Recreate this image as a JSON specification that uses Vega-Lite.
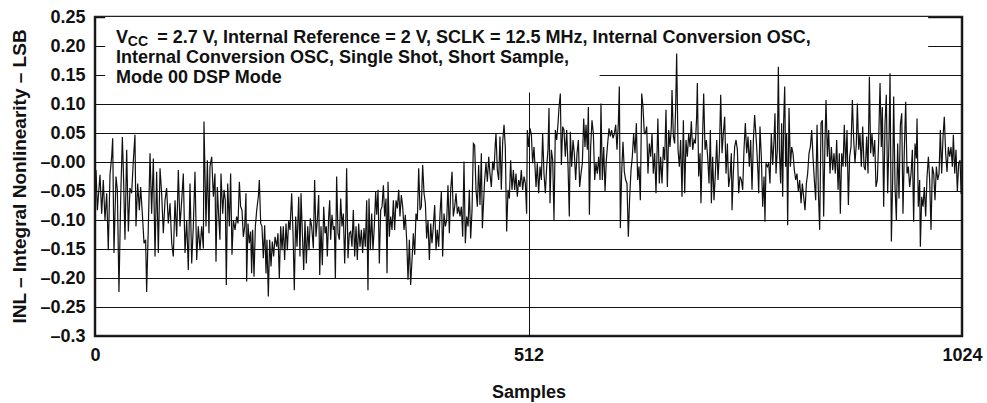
{
  "$schema": "https://vega.github.io/schema/vega-lite/v6.json",
  "autosize": {"type": "none"},
  "padding": {"left": 95, "top": 17, "right": 25, "bottom": 67},
  "width": 867,
  "height": 319,
  "background": "white",
  "config": {
    "font": "Liberation Sans",
    "view": {"stroke": "#222", "strokeWidth": 2.5},
    "axis": {"domain": false, "ticks": false, "grid": true, "gridColor": "#111", "gridWidth": 1, "gridOpacity": 1, "labelFont": "Liberation Sans", "labelFontWeight": "bold", "labelColor": "#111", "titleFont": "Liberation Sans", "titleFontWeight": "bold", "titleColor": "#111", "labelOverlap": false, "labelFlush": false}
  },
  "datasets": {
    "box": [
      {"sample": 12, "sample2": 984, "inl": 0.18, "inl2": 0.25},
      {"sample": 12, "sample2": 596, "inl": 0.12, "inl2": 0.18}
    ],
    "notes": [
      {"sample": 24.8, "inl": 0.2047, "label": "V"},
      {"sample": 73.5, "inl": 0.2047, "label": "= 2.7 V, Internal Reference = 2 V, SCLK = 12.5 MHz, Internal Conversion OSC,"},
      {"sample": 24.8, "inl": 0.1702, "label": "Internal Conversion OSC, Single Shot, Short Sample,"},
      {"sample": 24.8, "inl": 0.1367, "label": "Mode 00 DSP Mode"}
    ],
    "subscript": [
      {"sample": 38.8, "inl": 0.1995, "label": "CC"}
    ],
    "inl": [
{"sample":1.2,"inl":-0.014},{"sample":2.8,"inl":-0.083},{"sample":5.9,"inl":-0.022},{"sample":7.9,"inl":-0.089},{"sample":9.8,"inl":-0.031},{"sample":11.8,"inl":-0.100},{"sample":13.8,"inl":-0.054},{"sample":15.7,"inl":-0.152},{"sample":17.7,"inl":-0.022},{"sample":19.7,"inl":0.009},{"sample":20.9,"inl":0.041},{"sample":22.4,"inl":-0.157},{"sample":24.8,"inl":-0.025},{"sample":26.4,"inl":-0.048},{"sample":28.3,"inl":-0.224},{"sample":30.3,"inl":-0.066},{"sample":32.3,"inl":0.043},{"sample":33.5,"inl":-0.014},{"sample":35.4,"inl":-0.134},{"sample":37.4,"inl":0.021},{"sample":39.4,"inl":-0.120},{"sample":41.3,"inl":-0.045},{"sample":43.3,"inl":-0.054},{"sample":45.3,"inl":0.003},{"sample":47.2,"inl":0.047},{"sample":48.4,"inl":-0.111},{"sample":50.4,"inl":-0.037},{"sample":52.4,"inl":-0.083},{"sample":53.9,"inl":-0.043},{"sample":55.9,"inl":-0.089},{"sample":57.9,"inl":-0.140},{"sample":59.8,"inl":-0.134},{"sample":61.0,"inl":-0.224},{"sample":63.0,"inl":-0.111},{"sample":65.0,"inl":0.015},{"sample":66.9,"inl":-0.089},{"sample":68.9,"inl":0.006},{"sample":70.9,"inl":-0.163},{"sample":72.8,"inl":-0.017},{"sample":74.8,"inl":-0.157},{"sample":76.8,"inl":-0.011},{"sample":78.7,"inl":-0.054},{"sample":80.7,"inl":-0.123},{"sample":82.7,"inl":-0.066},{"sample":84.6,"inl":-0.045},{"sample":86.6,"inl":-0.106},{"sample":88.6,"inl":-0.071},{"sample":90.6,"inl":-0.140},{"sample":92.5,"inl":-0.163},{"sample":94.5,"inl":-0.066},{"sample":96.5,"inl":-0.129},{"sample":98.4,"inl":-0.014},{"sample":100.4,"inl":-0.111},{"sample":102.4,"inl":-0.066},{"sample":104.3,"inl":-0.020},{"sample":106.3,"inl":-0.157},{"sample":108.3,"inl":-0.100},{"sample":110.2,"inl":-0.186},{"sample":112.2,"inl":-0.037},{"sample":114.2,"inl":-0.175},{"sample":116.1,"inl":-0.111},{"sample":118.1,"inl":-0.017},{"sample":120.1,"inl":-0.169},{"sample":122.0,"inl":-0.111},{"sample":124.0,"inl":-0.152},{"sample":126.0,"inl":-0.111},{"sample":128.0,"inl":-0.149},
{"sample":128.7,"inl":0.070},{"sample":131.1,"inl":-0.111},{"sample":132.7,"inl":0.003},{"sample":134.6,"inl":-0.123},{"sample":135.8,"inl":-0.008},{"sample":137.8,"inl":0.009},{"sample":139.8,"inl":-0.060},{"sample":141.7,"inl":-0.020},{"sample":142.9,"inl":-0.172},{"sample":144.5,"inl":-0.043},{"sample":146.1,"inl":-0.094},{"sample":147.6,"inl":-0.134},{"sample":148.8,"inl":-0.020},{"sample":150.8,"inl":-0.089},{"sample":152.4,"inl":-0.048},{"sample":153.9,"inl":-0.066},{"sample":155.1,"inl":-0.212},{"sample":156.7,"inl":-0.037},{"sample":158.7,"inl":-0.111},{"sample":160.2,"inl":-0.020},{"sample":161.8,"inl":-0.160},{"sample":163.4,"inl":-0.100},{"sample":165.4,"inl":-0.117},{"sample":167.3,"inl":-0.094},{"sample":168.9,"inl":-0.106},{"sample":170.5,"inl":-0.034},{"sample":172.0,"inl":-0.077},{"sample":173.6,"inl":-0.083},{"sample":175.2,"inl":-0.129},{"sample":176.8,"inl":-0.111},{"sample":178.3,"inl":-0.054},{"sample":179.1,"inl":-0.206},{"sample":180.7,"inl":-0.106},{"sample":182.3,"inl":-0.140},{"sample":183.9,"inl":-0.120},{"sample":185.0,"inl":-0.192},{"sample":186.2,"inl":-0.117},{"sample":187.8,"inl":-0.198},{"sample":189.4,"inl":-0.111},{"sample":191.0,"inl":-0.083},{"sample":192.9,"inl":-0.060},{"sample":194.1,"inl":-0.031},{"sample":195.7,"inl":-0.106},{"sample":197.2,"inl":-0.111},{"sample":198.8,"inl":-0.166},{"sample":200.4,"inl":-0.109},{"sample":202.0,"inl":-0.192},{"sample":203.1,"inl":-0.134},{"sample":204.7,"inl":-0.232},{"sample":206.3,"inl":-0.134},{"sample":207.9,"inl":-0.180},{"sample":209.4,"inl":-0.137},{"sample":211.0,"inl":-0.163},{"sample":212.6,"inl":-0.129},{"sample":214.6,"inl":-0.146},{"sample":216.1,"inl":-0.123},{"sample":217.7,"inl":-0.201},{"sample":219.3,"inl":-0.111},{"sample":220.9,"inl":-0.152},{"sample":222.4,"inl":-0.111},{"sample":224.0,"inl":-0.169},{"sample":225.6,"inl":-0.106},{"sample":227.2,"inl":-0.152},{"sample":228.7,"inl":-0.100},{"sample":230.3,"inl":-0.117},{"sample":232.3,"inl":-0.054},{"sample":233.9,"inl":-0.123},{"sample":235.4,"inl":-0.221},{"sample":237.0,"inl":-0.094},{"sample":238.6,"inl":-0.146},{"sample":240.6,"inl":-0.060},{"sample":242.1,"inl":-0.163},{"sample":243.3,"inl":-0.054},{"sample":244.9,"inl":-0.123},{"sample":246.5,"inl":-0.186},{"sample":248.0,"inl":-0.100},{"sample":249.6,"inl":-0.175},{"sample":251.2,"inl":-0.111},{"sample":252.8,"inl":-0.152},{"sample":254.3,"inl":-0.097},{"sample":255.9,"inl":-0.111},{"sample":257.9,"inl":-0.149},
{"sample":259.4,"inl":-0.031},{"sample":261.0,"inl":-0.129},{"sample":262.6,"inl":-0.100},{"sample":264.2,"inl":-0.057},{"sample":265.4,"inl":-0.195},{"sample":266.9,"inl":-0.111},{"sample":268.5,"inl":-0.178},{"sample":270.1,"inl":-0.077},{"sample":271.7,"inl":-0.123},{"sample":273.2,"inl":-0.111},{"sample":274.4,"inl":-0.163},{"sample":276.0,"inl":-0.094},{"sample":277.2,"inl":-0.066},{"sample":278.3,"inl":-0.134},{"sample":279.9,"inl":-0.091},{"sample":281.5,"inl":-0.117},{"sample":282.7,"inl":-0.111},{"sample":283.9,"inl":-0.201},{"sample":285.4,"inl":-0.025},{"sample":287.0,"inl":-0.123},{"sample":288.6,"inl":-0.134},{"sample":290.2,"inl":-0.063},{"sample":291.7,"inl":-0.111},{"sample":293.3,"inl":-0.089},{"sample":294.9,"inl":-0.175},{"sample":296.1,"inl":-0.111},{"sample":297.2,"inl":-0.011},{"sample":298.8,"inl":-0.166},{"sample":300.4,"inl":-0.123},{"sample":302.0,"inl":-0.120},{"sample":303.5,"inl":-0.146},{"sample":305.1,"inl":-0.083},{"sample":306.7,"inl":-0.163},{"sample":308.3,"inl":-0.111},{"sample":309.8,"inl":-0.169},{"sample":311.4,"inl":-0.106},{"sample":313.0,"inl":-0.146},{"sample":314.6,"inl":-0.117},{"sample":316.1,"inl":-0.157},{"sample":317.7,"inl":-0.114},{"sample":319.3,"inl":-0.146},{"sample":320.9,"inl":-0.066},{"sample":322.4,"inl":-0.221},{"sample":323.6,"inl":-0.063},{"sample":325.2,"inl":-0.152},{"sample":326.8,"inl":-0.089},{"sample":328.3,"inl":-0.152},{"sample":329.9,"inl":-0.111},{"sample":331.5,"inl":-0.051},{"sample":332.7,"inl":-0.091},{"sample":334.3,"inl":-0.048},{"sample":335.8,"inl":-0.175},{"sample":337.4,"inl":-0.083},{"sample":339.0,"inl":-0.077},{"sample":340.6,"inl":-0.040},{"sample":342.1,"inl":-0.094},{"sample":343.7,"inl":-0.063},{"sample":344.9,"inl":-0.192},{"sample":346.1,"inl":-0.034},{"sample":347.6,"inl":-0.129},{"sample":349.2,"inl":-0.094},{"sample":350.8,"inl":-0.117},{"sample":352.4,"inl":-0.066},{"sample":353.9,"inl":-0.117},{"sample":355.5,"inl":-0.066},{"sample":357.1,"inl":-0.080},{"sample":358.7,"inl":-0.048},{"sample":360.2,"inl":-0.094},{"sample":361.8,"inl":-0.057},{"sample":363.4,"inl":-0.077},{"sample":365.0,"inl":-0.117},{"sample":366.5,"inl":-0.091},{"sample":368.1,"inl":-0.134},{"sample":369.7,"inl":-0.203},{"sample":371.3,"inl":-0.134},{"sample":372.8,"inl":-0.212},{"sample":374.4,"inl":-0.169},{"sample":376.0,"inl":-0.123},{"sample":377.6,"inl":-0.160},{"sample":379.1,"inl":-0.089},{"sample":380.7,"inl":-0.100},{"sample":382.3,"inl":-0.011},{"sample":383.9,"inl":-0.083},{"sample":385.4,"inl":-0.077},{"sample":387.0,"inl":-0.005},{"sample":388.6,"inl":-0.054},
{"sample":390.2,"inl":-0.071},{"sample":391.7,"inl":-0.132},{"sample":393.3,"inl":-0.100},{"sample":394.9,"inl":-0.169},{"sample":396.5,"inl":-0.106},{"sample":398.0,"inl":-0.140},{"sample":399.6,"inl":-0.111},{"sample":401.2,"inl":-0.074},{"sample":402.8,"inl":-0.152},{"sample":404.3,"inl":-0.117},{"sample":405.9,"inl":-0.146},{"sample":407.5,"inl":-0.089},{"sample":409.1,"inl":-0.051},{"sample":410.6,"inl":-0.163},{"sample":412.2,"inl":-0.089},{"sample":413.8,"inl":-0.111},{"sample":415.4,"inl":-0.100},{"sample":416.9,"inl":-0.040},{"sample":418.5,"inl":-0.123},{"sample":420.1,"inl":-0.048},{"sample":421.7,"inl":-0.017},{"sample":423.2,"inl":-0.094},{"sample":424.8,"inl":-0.077},{"sample":426.4,"inl":-0.054},{"sample":428.0,"inl":-0.089},{"sample":429.5,"inl":-0.077},{"sample":431.1,"inl":-0.094},{"sample":432.7,"inl":-0.077},{"sample":434.3,"inl":-0.129},{"sample":435.8,"inl":0.001},{"sample":437.4,"inl":-0.140},{"sample":439.0,"inl":-0.094},{"sample":440.6,"inl":-0.111},{"sample":442.1,"inl":-0.048},{"sample":443.7,"inl":-0.132},{"sample":445.3,"inl":-0.083},{"sample":446.9,"inl":0.032},{"sample":448.4,"inl":0.029},{"sample":450.0,"inl":-0.048},{"sample":451.6,"inl":-0.077},{"sample":453.1,"inl":-0.005},{"sample":454.7,"inl":-0.074},{"sample":456.3,"inl":0.015},{"sample":457.5,"inl":-0.114},{"sample":458.7,"inl":-0.077},{"sample":460.2,"inl":-0.031},{"sample":461.8,"inl":-0.002},{"sample":463.4,"inl":-0.034},{"sample":465.0,"inl":0.009},{"sample":466.5,"inl":-0.020},{"sample":468.1,"inl":-0.043},{"sample":469.7,"inl":0.001},{"sample":471.3,"inl":-0.014},{"sample":472.8,"inl":0.032},{"sample":473.6,"inl":0.049},{"sample":475.2,"inl":-0.014},{"sample":476.8,"inl":-0.031},{"sample":478.3,"inl":0.044},{"sample":479.9,"inl":-0.048},{"sample":481.5,"inl":0.035},{"sample":483.1,"inl":0.064},{"sample":484.6,"inl":0.026},{"sample":486.2,"inl":-0.120},{"sample":487.8,"inl":-0.048},{"sample":489.4,"inl":-0.063},{"sample":490.9,"inl":0.003},{"sample":492.5,"inl":-0.048},{"sample":494.1,"inl":-0.014},{"sample":495.7,"inl":-0.048},{"sample":497.2,"inl":-0.020},{"sample":498.8,"inl":-0.060},{"sample":500.4,"inl":-0.031},{"sample":502.0,"inl":-0.043},{"sample":503.5,"inl":-0.014},{"sample":505.1,"inl":-0.048},{"sample":506.7,"inl":-0.025},{"sample":508.3,"inl":-0.037},{"sample":509.8,"inl":-0.089},{"sample":510.6,"inl":0.055},{"sample":512.2,"inl":0.026},{"sample":513.8,"inl":0.058},{"sample":515.4,"inl":0.047},{"sample":516.9,"inl":-0.002},{"sample":518.5,"inl":0.026},
{"sample":520.9,"inl":-0.043},{"sample":522.4,"inl":-0.002},{"sample":524.0,"inl":-0.054},{"sample":525.6,"inl":-0.008},{"sample":527.2,"inl":-0.031},{"sample":528.7,"inl":0.049},{"sample":530.3,"inl":-0.020},{"sample":531.9,"inl":-0.054},{"sample":533.5,"inl":-0.008},{"sample":535.0,"inl":0.021},{"sample":536.2,"inl":0.093},{"sample":537.4,"inl":-0.071},{"sample":539.0,"inl":0.021},{"sample":540.6,"inl":0.003},{"sample":542.1,"inl":-0.100},{"sample":543.7,"inl":0.055},{"sample":545.3,"inl":0.038},{"sample":546.9,"inl":0.067},{"sample":548.0,"inl":0.093},{"sample":549.6,"inl":0.118},{"sample":550.8,"inl":-0.005},{"sample":552.4,"inl":0.061},{"sample":553.9,"inl":0.055},{"sample":555.5,"inl":0.009},{"sample":557.1,"inl":0.055},{"sample":558.7,"inl":-0.008},{"sample":560.2,"inl":-0.094},{"sample":561.4,"inl":0.052},{"sample":563.0,"inl":-0.008},{"sample":564.6,"inl":0.038},{"sample":566.1,"inl":0.015},{"sample":567.7,"inl":-0.031},{"sample":569.3,"inl":0.015},{"sample":570.9,"inl":0.038},{"sample":572.4,"inl":-0.043},{"sample":574.0,"inl":-0.020},{"sample":575.6,"inl":-0.002},{"sample":577.2,"inl":0.075},{"sample":578.7,"inl":0.026},{"sample":579.9,"inl":0.064},{"sample":581.5,"inl":0.021},{"sample":582.7,"inl":0.095},{"sample":583.9,"inl":-0.091},{"sample":585.4,"inl":0.026},{"sample":587.0,"inl":0.072},{"sample":588.6,"inl":0.049},{"sample":590.2,"inl":-0.031},{"sample":591.7,"inl":-0.002},{"sample":593.3,"inl":-0.020},{"sample":594.9,"inl":0.009},{"sample":596.5,"inl":-0.031},{"sample":597.6,"inl":0.101},{"sample":599.2,"inl":-0.031},{"sample":600.8,"inl":0.026},{"sample":602.4,"inl":-0.051},{"sample":603.9,"inl":0.003},{"sample":605.5,"inl":0.032},{"sample":607.1,"inl":0.058},{"sample":608.7,"inl":0.044},{"sample":610.2,"inl":0.055},{"sample":611.8,"inl":0.041},{"sample":613.4,"inl":0.049},{"sample":615.0,"inl":0.064},{"sample":616.5,"inl":0.021},{"sample":618.1,"inl":0.067},{"sample":619.3,"inl":0.130},{"sample":620.5,"inl":-0.114},{"sample":622.0,"inl":-0.020},{"sample":623.6,"inl":0.035},{"sample":625.2,"inl":-0.017},{"sample":626.8,"inl":-0.031},{"sample":628.3,"inl":-0.037},{"sample":629.9,"inl":-0.129},{"sample":631.5,"inl":-0.060},{"sample":633.1,"inl":-0.014},{"sample":634.6,"inl":0.009},{"sample":636.2,"inl":0.049},{"sample":637.8,"inl":0.015},{"sample":639.4,"inl":0.067},{"sample":640.9,"inl":-0.031},{"sample":642.5,"inl":-0.008},{"sample":644.1,"inl":-0.066},{"sample":645.7,"inl":0.118},{"sample":647.2,"inl":0.095},{"sample":648.8,"inl":0.049},
{"sample":650.0,"inl":0.049},{"sample":651.6,"inl":0.061},{"sample":653.1,"inl":-0.020},{"sample":654.7,"inl":0.032},{"sample":656.3,"inl":0.009},{"sample":657.9,"inl":0.049},{"sample":659.4,"inl":-0.020},{"sample":661.0,"inl":0.015},{"sample":662.6,"inl":-0.054},{"sample":664.2,"inl":0.038},{"sample":664.8,"inl":0.075},{"sample":666.5,"inl":-0.037},{"sample":668.1,"inl":0.009},{"sample":669.7,"inl":-0.037},{"sample":671.3,"inl":0.026},{"sample":672.8,"inl":0.003},{"sample":674.4,"inl":0.090},{"sample":676.0,"inl":-0.043},{"sample":677.6,"inl":0.055},{"sample":679.1,"inl":0.026},{"sample":680.7,"inl":0.061},{"sample":681.5,"inl":0.124},{"sample":683.1,"inl":0.044},{"sample":684.6,"inl":0.032},{"sample":685.8,"inl":0.095},{"sample":687.0,"inl":0.187},{"sample":688.6,"inl":0.021},{"sample":690.2,"inl":-0.008},{"sample":691.7,"inl":0.038},{"sample":693.3,"inl":-0.060},{"sample":694.9,"inl":0.072},{"sample":696.5,"inl":-0.054},{"sample":698.0,"inl":0.038},{"sample":699.6,"inl":0.009},{"sample":701.2,"inl":0.049},{"sample":702.8,"inl":0.026},{"sample":704.3,"inl":0.070},{"sample":705.9,"inl":0.021},{"sample":707.5,"inl":0.038},{"sample":709.1,"inl":0.032},{"sample":710.6,"inl":0.078},{"sample":711.4,"inl":0.136},{"sample":713.0,"inl":-0.025},{"sample":714.6,"inl":0.015},{"sample":715.7,"inl":-0.071},{"sample":717.3,"inl":0.026},{"sample":718.9,"inl":0.118},{"sample":720.5,"inl":0.021},{"sample":722.0,"inl":0.038},{"sample":723.6,"inl":0.009},{"sample":725.2,"inl":-0.037},{"sample":726.8,"inl":0.055},{"sample":728.0,"inl":-0.071},{"sample":729.5,"inl":0.009},{"sample":731.1,"inl":-0.066},{"sample":732.7,"inl":-0.020},{"sample":734.3,"inl":0.038},{"sample":735.8,"inl":-0.031},{"sample":737.4,"inl":0.015},{"sample":739.0,"inl":0.116},{"sample":740.6,"inl":0.015},{"sample":742.1,"inl":0.049},{"sample":743.7,"inl":0.078},{"sample":745.3,"inl":-0.020},{"sample":746.9,"inl":0.032},{"sample":748.4,"inl":-0.043},{"sample":750.0,"inl":-0.025},{"sample":751.6,"inl":0.015},{"sample":752.4,"inl":-0.083},{"sample":753.9,"inl":-0.020},{"sample":755.5,"inl":0.026},{"sample":757.1,"inl":0.038},{"sample":758.7,"inl":0.021},{"sample":760.2,"inl":-0.054},{"sample":761.8,"inl":-0.025},{"sample":763.4,"inl":-0.031},{"sample":765.0,"inl":-0.048},{"sample":766.5,"inl":0.021},{"sample":768.1,"inl":0.067},{"sample":769.7,"inl":0.015},{"sample":771.3,"inl":0.044},{"sample":772.8,"inl":-0.008},{"sample":774.4,"inl":0.038},{"sample":776.0,"inl":-0.048},{"sample":777.6,"inl":0.038},{"sample":779.1,"inl":0.081},
{"sample":781.5,"inl":0.026},{"sample":783.1,"inl":-0.020},{"sample":783.9,"inl":-0.054},{"sample":785.4,"inl":0.061},{"sample":787.0,"inl":0.009},{"sample":788.6,"inl":-0.077},{"sample":790.2,"inl":-0.025},{"sample":791.3,"inl":-0.103},{"sample":792.5,"inl":-0.002},{"sample":794.1,"inl":-0.008},{"sample":795.7,"inl":-0.002},{"sample":797.2,"inl":-0.037},{"sample":798.8,"inl":0.049},{"sample":800.4,"inl":-0.005},{"sample":802.0,"inl":0.038},{"sample":803.1,"inl":0.084},{"sample":804.3,"inl":-0.020},{"sample":805.9,"inl":0.021},{"sample":807.1,"inl":0.164},{"sample":808.3,"inl":0.021},{"sample":809.8,"inl":-0.037},{"sample":811.0,"inl":0.067},{"sample":812.2,"inl":-0.060},{"sample":813.4,"inl":0.072},{"sample":814.6,"inl":0.130},{"sample":815.7,"inl":-0.008},{"sample":816.9,"inl":0.049},{"sample":818.1,"inl":-0.109},{"sample":819.7,"inl":0.093},{"sample":821.3,"inl":-0.008},{"sample":822.8,"inl":0.026},{"sample":824.4,"inl":0.015},{"sample":826.0,"inl":-0.014},{"sample":827.6,"inl":-0.031},{"sample":829.1,"inl":-0.020},{"sample":830.7,"inl":-0.051},{"sample":832.3,"inl":-0.031},{"sample":833.9,"inl":-0.071},{"sample":835.4,"inl":-0.037},{"sample":837.0,"inl":-0.060},{"sample":838.6,"inl":-0.083},{"sample":840.2,"inl":-0.037},{"sample":841.7,"inl":-0.020},{"sample":843.3,"inl":0.015},{"sample":844.9,"inl":0.026},{"sample":846.5,"inl":0.055},{"sample":848.0,"inl":0.009},{"sample":849.6,"inl":-0.031},{"sample":851.2,"inl":-0.066},{"sample":852.8,"inl":0.064},{"sample":854.3,"inl":-0.048},{"sample":855.9,"inl":-0.117},{"sample":857.5,"inl":0.067},{"sample":859.1,"inl":0.072},{"sample":860.6,"inl":-0.094},{"sample":862.2,"inl":0.038},{"sample":863.4,"inl":0.107},{"sample":865.0,"inl":0.009},{"sample":866.5,"inl":0.055},{"sample":868.1,"inl":-0.020},{"sample":869.7,"inl":0.026},{"sample":871.3,"inl":-0.014},{"sample":872.8,"inl":0.015},{"sample":874.4,"inl":-0.020},{"sample":876.0,"inl":0.038},{"sample":877.6,"inl":-0.048},{"sample":879.1,"inl":0.015},{"sample":880.3,"inl":-0.089},{"sample":881.9,"inl":0.015},{"sample":883.5,"inl":-0.008},{"sample":885.0,"inl":0.064},{"sample":886.6,"inl":-0.008},{"sample":888.2,"inl":0.055},{"sample":889.8,"inl":-0.074},{"sample":891.3,"inl":0.009},{"sample":892.9,"inl":0.026},{"sample":894.5,"inl":0.107},{"sample":896.1,"inl":0.038},{"sample":897.6,"inl":-0.002},{"sample":899.2,"inl":0.032},{"sample":900.4,"inl":0.101},{"sample":902.0,"inl":0.021},{"sample":903.5,"inl":0.049},{"sample":905.1,"inl":-0.008},{"sample":906.7,"inl":0.061},{"sample":908.3,"inl":-0.008},
{"sample":909.8,"inl":-0.014},{"sample":911.4,"inl":0.044},{"sample":913.0,"inl":-0.020},{"sample":914.6,"inl":0.147},{"sample":916.1,"inl":0.015},{"sample":917.7,"inl":0.049},{"sample":919.3,"inl":0.009},{"sample":920.9,"inl":0.038},{"sample":922.4,"inl":-0.043},{"sample":924.0,"inl":-0.031},{"sample":925.6,"inl":0.038},{"sample":927.2,"inl":0.136},{"sample":928.7,"inl":0.026},{"sample":929.9,"inl":0.095},{"sample":931.5,"inl":-0.077},{"sample":933.1,"inl":0.067},{"sample":934.6,"inl":0.116},{"sample":936.2,"inl":-0.054},{"sample":937.8,"inl":0.038},{"sample":939.0,"inl":0.153},{"sample":940.6,"inl":-0.137},{"sample":942.1,"inl":-0.031},{"sample":943.3,"inl":0.113},{"sample":944.9,"inl":-0.043},{"sample":946.5,"inl":-0.100},{"sample":948.0,"inl":0.032},{"sample":949.6,"inl":-0.063},{"sample":951.2,"inl":0.064},{"sample":952.8,"inl":0.084},{"sample":954.3,"inl":-0.089},{"sample":955.9,"inl":0.021},{"sample":957.5,"inl":0.104},{"sample":959.1,"inl":-0.020},{"sample":960.6,"inl":-0.008},{"sample":962.2,"inl":-0.043},{"sample":963.8,"inl":-0.020},{"sample":965.4,"inl":0.021},{"sample":966.9,"inl":-0.103},{"sample":968.5,"inl":0.032},{"sample":970.1,"inl":0.006},{"sample":970.9,"inl":0.075},{"sample":972.4,"inl":-0.077},{"sample":974.0,"inl":-0.031},{"sample":974.8,"inl":-0.146},{"sample":976.4,"inl":-0.060},{"sample":978.0,"inl":-0.077},{"sample":979.5,"inl":-0.043},{"sample":981.1,"inl":-0.094},{"sample":982.7,"inl":-0.025},{"sample":984.3,"inl":0.009},{"sample":985.8,"inl":-0.031},{"sample":987.4,"inl":-0.117},{"sample":989.0,"inl":-0.008},{"sample":990.6,"inl":-0.020},{"sample":992.1,"inl":-0.066},{"sample":993.7,"inl":-0.008},{"sample":995.3,"inl":-0.031},{"sample":996.9,"inl":-0.020},{"sample":998.4,"inl":0.055},{"sample":1000.0,"inl":-0.020},{"sample":1001.6,"inl":0.044},{"sample":1003.1,"inl":0.078},{"sample":1004.7,"inl":0.015},{"sample":1006.3,"inl":-0.017},{"sample":1007.9,"inl":0.026},{"sample":1009.4,"inl":0.009},{"sample":1011.0,"inl":0.026},{"sample":1012.6,"inl":-0.008},{"sample":1013.8,"inl":0.047},{"sample":1015.4,"inl":-0.020},{"sample":1016.9,"inl":0.021},{"sample":1018.5,"inl":-0.051},{"sample":1020.1,"inl":-0.002},{"sample":1021.7,"inl":0.003},{"sample":1023.0,"inl":-0.055}
    ]
  },
  "encoding": {
    "x": {
      "field": "sample", "type": "quantitative",
      "scale": {"domain": [0, 1024], "nice": false, "zero": false},
      "axis": {"title": "Samples", "values": [0, 512, 1024], "format": "d", "labelFontSize": 18, "labelPadding": 10, "titleFontSize": 18, "titleY": 61, "titleBaseline": "alphabetic"}
    },
    "y": {
      "field": "inl", "type": "quantitative",
      "scale": {"domain": [-0.3, 0.25], "nice": false, "zero": false},
      "axis": {
        "title": "INL – Integral Nonlinearity – LSB",
        "values": [-0.3, -0.25, -0.2, -0.15, -0.1, -0.05, 0, 0.05, 0.1, 0.15, 0.2, 0.25],
        "labelExpr": "datum.value > 0.001 ? format(datum.value, '.2f') : (datum.value < -0.29 ? '–0.3' : '–' + format(abs(datum.value), '.2f'))",
        "labelFontSize": 18, "labelPadding": 10,
        "titleFontSize": 19, "titleX": -76, "titleY": 159, "titleAngle": -90, "titleAlign": "center", "titleBaseline": "middle"
      }
    }
  },
  "layer": [
    {
      "data": {"name": "box"},
      "mark": {"type": "rect", "fill": "white", "stroke": null},
      "encoding": {
        "x2": {"field": "sample2"},
        "y2": {"field": "inl2"}
      }
    },
    {
      "data": {"name": "inl"},
      "mark": {"type": "line", "color": "#111", "strokeWidth": 1.2, "clip": true}
    },
    {
      "data": {"name": "notes"},
      "mark": {"type": "text", "align": "left", "baseline": "alphabetic", "fontSize": 18, "fontWeight": "bold", "font": "Liberation Sans", "color": "#111"},
      "encoding": {
        "text": {"field": "label"}
      }
    },
    {
      "data": {"name": "subscript"},
      "mark": {"type": "text", "align": "left", "baseline": "alphabetic", "fontSize": 14, "fontWeight": "bold", "font": "Liberation Sans", "color": "#111"},
      "encoding": {
        "text": {"field": "label"}
      }
    }
  ]
}
